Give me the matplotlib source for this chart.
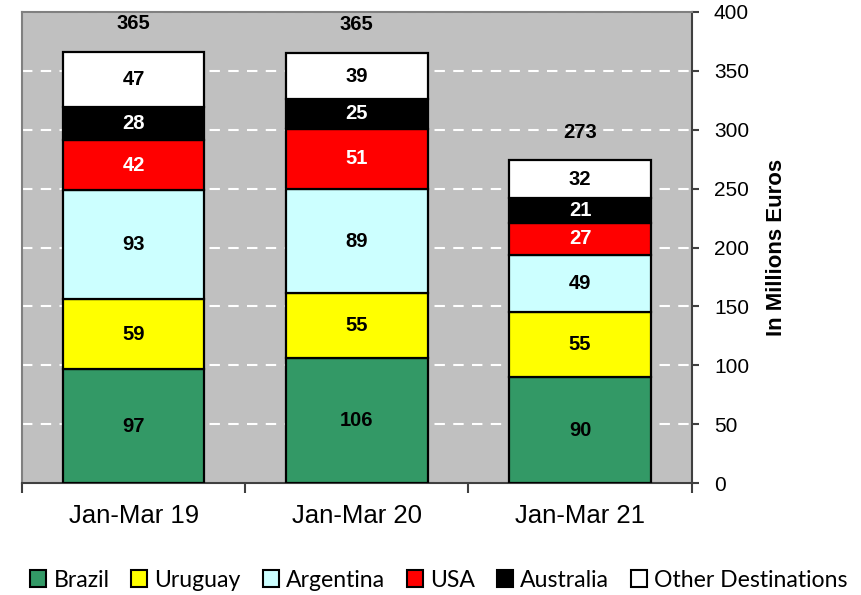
import numpy as np
import matplotlib.pyplot as plt
from matplotlib.patches import Patch

periods = ['Jan-Mar 19', 'Jan-Mar 20', 'Jan-Mar 21']
brazil = [97, 106, 90]
uruguay = [59, 55, 55]
argentina = [93, 89, 49]
usa = [42, 51, 27]
australia = [28, 25, 21]
other = [47, 39, 32]
totals = [365, 365, 273]

series = [('Brazil', brazil, '#339966', 'black'),
          ('Uruguay', uruguay, '#FFFF00', 'black'),
          ('Argentina', argentina, '#CCFFFF', 'black'),
          ('USA', usa, '#FF0000', 'white'),
          ('Australia', australia, '#000000', 'white'),
          ('Other Destinations', other, '#FFFFFF', 'black')]

plt.rcParams['font.family'] = ['Liberation Sans', 'DejaVu Sans']

fig = plt.figure(figsize=(8.62, 5.95), dpi=100)
ax = fig.add_axes([0.0255, 0.188, 0.777, 0.792])
ax.set_facecolor('#C0C0C0')

x = np.arange(len(periods))
bottom = np.zeros(len(periods))
handles = []
for name, vals, col, tcol in series:
    ax.bar(x, vals, width=0.633, bottom=bottom, color=col, edgecolor='black', linewidth=1.6, zorder=3)
    for i, v in enumerate(vals):
        ax.text(x[i], bottom[i] + v / 2, str(v), ha='center', va='center', fontsize=14.5,
                fontweight='bold', color=tcol, zorder=4)
    bottom += np.array(vals)
    handles.append(Patch(facecolor=col, edgecolor='black', linewidth=1.5, label=name))

for i, t in enumerate(totals):
    ax.text(x[i], bottom[i] + 24, str(t), ha='center', va='center', fontsize=14.5, fontweight='bold')

ax.set_xlim(-0.5, 2.5)
ax.set_ylim(0, 400)
ax.set_yticks(range(0, 401, 50))
ax.yaxis.tick_right()
ax.yaxis.set_label_position('right')
ax.set_ylabel('In Millions Euros', fontsize=16, fontweight='bold', labelpad=12)
ax.tick_params(axis='y', labelsize=15, length=5, width=1.5, color='#404040', pad=11)
ax.set_xticks(x)
ax.set_xticklabels(periods, fontsize=18.5)
ax.tick_params(axis='x', length=0, pad=15)
ax.set_xticks([-0.5, 0.5, 1.5, 2.5], minor=True)
ax.tick_params(axis='x', which='minor', length=7, width=1.5, color='#404040')
ax.grid(axis='y', color='white', linestyle=(0, (5, 4)), linewidth=1.5, zorder=0)
for s in ['top', 'left']:
    ax.spines[s].set_color('#808080')
    ax.spines[s].set_linewidth(1.5)
for s in ['right', 'bottom']:
    ax.spines[s].set_color('#404040')
    ax.spines[s].set_linewidth(1.5)

fig.legend(handles=handles, loc='center', bbox_to_anchor=(0.509, 0.025), ncol=6, frameon=False,
           prop={'family': 'Lato', 'size': 16.6}, handlelength=0.7, handleheight=0.7,
           handletextpad=0.3, columnspacing=0.95, borderpad=0)

fig.savefig('out.png', dpi=100)
